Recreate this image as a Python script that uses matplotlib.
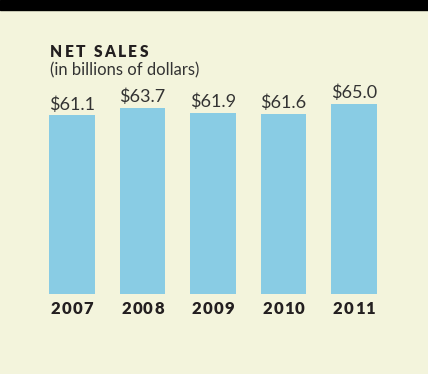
import matplotlib.pyplot as plt
from matplotlib.transforms import offset_copy

# Net sales, billions of dollars
years = ["2007", "2008", "2009", "2010", "2011"]
sales = [61.1, 63.7, 61.9, 61.6, 65.0]

bg = "#f3f4dc"
bar_color = "#89cce4"
ink = "#231f20"

fig = plt.figure(figsize=(4.28, 3.74), dpi=100, facecolor=bg)
ax = fig.add_axes([0, 0, 1, 1])
ax.set_facecolor(bg)

x = range(len(years))
ax.bar(x, sales, width=0.65, color=bar_color)

# map the axes so that bar spacing and heights match the layout
step_px = 70.5
px_per_unit = 2.922
ax.set_xlim(-72 / step_px, (428 - 72) / step_px)
ax.set_ylim(-80 / px_per_unit, 294 / px_per_unit)
ax.axis("off")

renderer = fig.canvas.get_renderer()


def spaced_text(x0, y0, s, track, transform, center=False, **kw):
    # draw a string one character at a time with extra letter spacing (px)
    widths = []
    for ch in s:
        t = fig.text(0, 0, ch, **kw)
        widths.append(t.get_window_extent(renderer).width if ch != " " else kw["fontsize"] * 0.35)
        t.remove()
    total = sum(widths) + track * (len(s) - 1)
    dx = -total / 2 if center else 0
    for ch, w in zip(s, widths):
        tr = offset_copy(transform, fig=fig, x=dx, y=0, units="dots")
        fig.text(x0, y0, ch, transform=tr, ha="left", **kw)
        dx += w + track


for i, v in enumerate(sales):
    ax.text(i, v + 1.0, f"${v:.1f}", ha="center", va="bottom",
            fontsize=13, color="#333333", family="Lato")
    spaced_text(i, -2.5, years[i], 1.2, ax.transData, center=True, va="top",
                fontsize=12, fontweight="heavy", color=ink, family="Lato")

# black band at the top
fig.patches.append(plt.Rectangle((0, 1 - 10 / 374), 1, 10 / 374,
                                 transform=fig.transFigure, color="black"))

spaced_text(50 / 428, 1 - 57 / 374, "NET SALES", 2.3, fig.transFigure,
            fontsize=11.2, fontweight="heavy", color=ink, family="Lato",
            va="baseline")
fig.text(50 / 428, 1 - 75 / 374, "(in billions of dollars)", fontsize=12,
         color="#333333", family="Lato", va="baseline")

fig.savefig("out.png", dpi=100, facecolor=bg)
